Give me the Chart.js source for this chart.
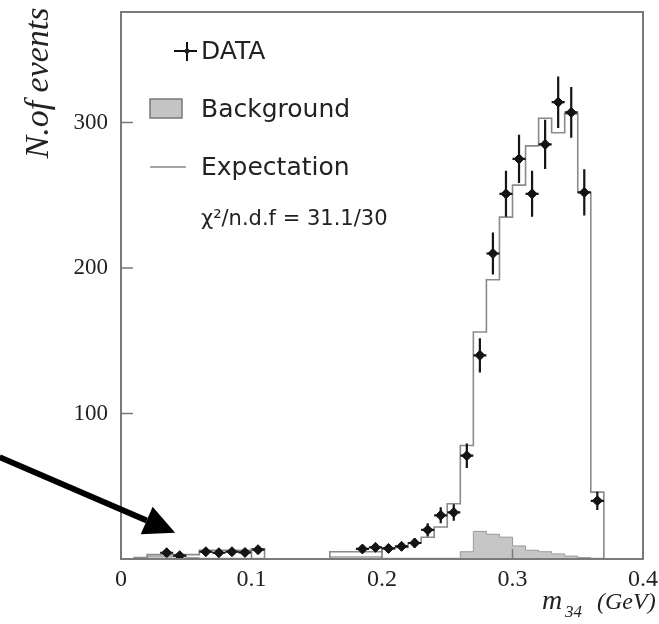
<!DOCTYPE html>
<html>
<head>
<meta charset="utf-8">
<title>m34 distribution</title>
<script src="https://cdn.jsdelivr.net/npm/chart.js@4.4.1/dist/chart.umd.min.js"></script>
<style>
  html, body { margin: 0; padding: 0; background: #fff; }
  #wrap { width: 659px; height: 624px; position: relative; }
</style>
</head>
<body>
<div id="wrap"><canvas id="myChart"></canvas></div>
<script>
// Chart data start

    // histogram bin edges (GeV)
    const binEdges = [0.00, 0.01, 0.02, 0.03, 0.04, 0.05, 0.06, 0.07, 0.08, 0.09,
                      0.10, 0.11, 0.12, 0.13, 0.14, 0.15, 0.16, 0.17, 0.18, 0.19,
                      0.20, 0.21, 0.22, 0.23, 0.24, 0.25, 0.26, 0.27, 0.28, 0.29,
                      0.30, 0.31, 0.32, 0.33, 0.34, 0.35, 0.36, 0.37, 0.38, 0.39, 0.40];

    // expected events per bin (open histogram)
    const expectation = [0, 1, 3, 3, 3, 3, 6, 6, 6, 6,
                         7, 0, 0, 0, 0, 0, 5, 5, 5, 5,
                         7, 8, 11, 15, 22, 38, 78, 156, 192, 235,
                         257, 284, 303, 293, 306, 252, 46, 0, 0, 0];

    // background per bin (grey filled histogram)
    const background = [0, 0.5, 2, 2, 2, 1, 0.5, 0.5, 0.5, 0.5,
                        0.5, 0, 0, 0, 0, 0, 1.5, 1.5, 1.5, 1.5,
                        0.5, 0.5, 0.5, 0.5, 0.5, 0.5, 5, 19, 17, 15,
                        9, 6, 5, 3.5, 2, 1, 0.5, 0, 0, 0];

    // measured points
    const dataX = [0.035, 0.045, 0.065, 0.075, 0.085, 0.095, 0.105,
                   0.185, 0.195, 0.205, 0.215, 0.225, 0.235, 0.245, 0.255, 0.265,
                   0.275, 0.285, 0.295, 0.305, 0.315, 0.325, 0.335, 0.345, 0.355, 0.365];
    const dataY = [4.3, 2.3, 5, 4.3, 5, 4.5, 6.4,
                   6.9, 8, 7.3, 8.7, 11, 20, 30, 32, 71,
                   140, 210, 251, 275, 251, 285, 314, 307, 252, 40];
    const dataErr = [2, 1.5, 2.2, 2, 2.2, 2.1, 2.5,
                     2.6, 2.8, 2.7, 3, 3.3, 4.5, 5.5, 5.7, 8.4,
                     11.8, 14.5, 15.8, 16.6, 15.8, 16.9, 17.7, 17.5, 15.9, 6.3];

    const xTicks = [0, 0.1, 0.2, 0.3, 0.4];
    const xTickLabels = ['0', '0.1', '0.2', '0.3', '0.4'];
    const yTicks = [100, 200, 300];

    const legendLabels = ['DATA', 'Background', 'Expectation'];
    const fitText = '\u03c7\u00b2/n.d.f = 31.1/30';

// End chart data

// Helpers start

    // turn per-bin values into points for a stepped outline
    function stepPoints(values){
        const pts = [];
        for(let i = 0; i < values.length; i++){
            pts.push({x: binEdges[i], y: values[i]});
        }
        pts.push({x: binEdges[values.length], y: values[values.length - 1]});
        return pts;
    }

    const points = [];
    for(let i = 0; i < dataX.length; i++){
        points.push({x: dataX[i], y: dataY[i]});
    }

// End helpers

// Plugins start

    // frame round the plot and small inward tick marks
    const framePlugin = {
        id: 'framePlugin',
        afterDraw(chart){
            const ctx = chart.ctx;
            const a = chart.chartArea;
            const sx = chart.scales.x;
            const sy = chart.scales.y;
            ctx.save();
            ctx.strokeStyle = '#7a7a7a';
            ctx.lineWidth = 2;
            ctx.strokeRect(a.left, a.top, a.right - a.left, a.bottom - a.top);
            ctx.lineWidth = 1.5;
            ctx.beginPath();
            yTicks.forEach(v => {
                const py = sy.getPixelForValue(v);
                ctx.moveTo(a.left, py);
                ctx.lineTo(a.left + 12, py);
            });
            xTicks.forEach(v => {
                const px = sx.getPixelForValue(v);
                ctx.moveTo(px, a.bottom);
                ctx.lineTo(px, a.bottom - 10);
            });
            ctx.stroke();
            ctx.restore();
        }
    };

    // error bars on the data points
    const errorBars = {
        id: 'errorBars',
        afterDatasetsDraw(chart){
            const ctx = chart.ctx;
            const sx = chart.scales.x;
            const sy = chart.scales.y;
            ctx.save();
            ctx.strokeStyle = '#151515';
            ctx.lineWidth = 2.2;
            ctx.beginPath();
            for(let i = 0; i < dataX.length; i++){
                const px = sx.getPixelForValue(dataX[i]);
                const py = sy.getPixelForValue(dataY[i]);
                ctx.moveTo(px, sy.getPixelForValue(dataY[i] - dataErr[i]));
                ctx.lineTo(px, sy.getPixelForValue(dataY[i] + dataErr[i]));
                ctx.moveTo(sx.getPixelForValue(dataX[i] - 0.005), py);
                ctx.lineTo(sx.getPixelForValue(dataX[i] + 0.005), py);
            }
            ctx.stroke();
            ctx.restore();
        }
    };

    // legend drawn inside the frame
    const boxLegend = {
        id: 'boxLegend',
        afterDraw(chart){
            const ctx = chart.ctx;
            const a = chart.chartArea;
            const x0 = a.left + 29;
            const tx = a.left + 80;
            ctx.save();
            ctx.fillStyle = '#222';
            ctx.font = '25px "DejaVu Sans"';
            ctx.textBaseline = 'middle';
            ctx.textAlign = 'left';

            // DATA marker
            ctx.strokeStyle = '#111';
            ctx.lineWidth = 2;
            ctx.beginPath();
            ctx.moveTo(a.left + 53, a.top + 39);
            ctx.lineTo(a.left + 76, a.top + 39);
            ctx.moveTo(a.left + 66, a.top + 30);
            ctx.lineTo(a.left + 66, a.top + 49);
            ctx.stroke();
            ctx.beginPath();
            ctx.arc(a.left + 66, a.top + 39, 2.5, 0, Math.PI * 2);
            ctx.fill();
            ctx.fillText(legendLabels[0], tx, a.top + 40);

            // Background box
            ctx.fillStyle = '#c4c4c4';
            ctx.fillRect(x0, a.top + 87, 32, 19);
            ctx.strokeStyle = '#777';
            ctx.lineWidth = 1.5;
            ctx.strokeRect(x0, a.top + 87, 32, 19);
            ctx.fillStyle = '#222';
            ctx.fillText(legendLabels[1], tx, a.top + 98);

            // Expectation line
            ctx.strokeStyle = '#888';
            ctx.beginPath();
            ctx.moveTo(x0, a.top + 155);
            ctx.lineTo(x0 + 36, a.top + 155);
            ctx.stroke();
            ctx.fillText(legendLabels[2], tx, a.top + 156);

            ctx.font = '21px "DejaVu Sans"';
            ctx.fillText(fitText, tx, a.top + 208);
            ctx.restore();
        }
    };

    // axis titles and the pointing arrow
    const decorations = {
        id: 'decorations',
        afterDraw(chart){
            const ctx = chart.ctx;
            const sx = chart.scales.x;
            const sy = chart.scales.y;
            ctx.save();
            ctx.fillStyle = '#222';

            // y title
            ctx.save();
            ctx.translate(39, 83);
            ctx.rotate(-Math.PI / 2);
            ctx.font = 'italic 34px "Liberation Serif"';
            ctx.textAlign = 'center';
            ctx.textBaseline = 'middle';
            ctx.fillText('N.of events', 0, 0);
            ctx.restore();

            // x title with subscript
            ctx.textBaseline = 'alphabetic';
            ctx.textAlign = 'left';
            ctx.font = 'italic 28px "Liberation Serif"';
            ctx.fillText('m', 542, 609);
            ctx.font = 'italic 17px "Liberation Serif"';
            ctx.fillText('34', 565, 617);
            ctx.font = 'italic 24px "Liberation Serif"';
            ctx.fillText('(GeV)', 597, 609);

            // arrow
            const x1 = sx.getPixelForValue(-0.093), y1 = sy.getPixelForValue(70);
            const x2 = sx.getPixelForValue(0.0415), y2 = sy.getPixelForValue(18);
            const ang = Math.atan2(y2 - y1, x2 - x1);
            const head = 31, half = 15;
            const bx = x2 - head * Math.cos(ang), by = y2 - head * Math.sin(ang);
            ctx.strokeStyle = '#000';
            ctx.lineWidth = 6;
            ctx.beginPath();
            ctx.moveTo(x1, y1);
            ctx.lineTo(bx, by);
            ctx.stroke();
            ctx.fillStyle = '#000';
            ctx.beginPath();
            ctx.moveTo(x2, y2);
            ctx.lineTo(bx + half * Math.sin(ang), by - half * Math.cos(ang));
            ctx.lineTo(bx - half * Math.sin(ang), by + half * Math.cos(ang));
            ctx.closePath();
            ctx.fill();
            ctx.restore();
        }
    };

// End plugins

// Build the chart start

    const ctx = document.getElementById('myChart').getContext('2d');
    const myChart = new Chart(ctx, {
        type: 'line',
        data: {
            datasets: [{
                label: 'DATA',
                type: 'scatter',
                data: points,
                pointStyle: 'rectRot',
                pointRadius: 5,
                backgroundColor: '#111',
                borderColor: '#111',
                borderWidth: 1,
                order: 0
            }, {
                label: 'Expectation',
                data: stepPoints(expectation),
                stepped: true,
                borderColor: '#8a8a8a',
                borderWidth: 1.6,
                pointRadius: 0,
                fill: false,
                order: 1
            }, {
                label: 'Background',
                data: stepPoints(background),
                stepped: true,
                borderColor: '#9a9a9a',
                borderWidth: 1,
                backgroundColor: '#c6c6c6',
                pointRadius: 0,
                fill: 'origin',
                order: 2
            }]
        },
        options: {
            responsive: true,
            maintainAspectRatio: false,
            animation: false,
            events: [],
            layout: {
                padding: {left: 0, right: 16, top: 12, bottom: 0}
            },
            plugins: {
                legend: {display: false},
                tooltip: {enabled: false}
            },
            scales: {
                x: {
                    type: 'linear',
                    min: 0,
                    max: 0.4,
                    grid: {display: false, drawTicks: false},
                    border: {display: false},
                    afterBuildTicks: s => { s.ticks = xTicks.map(v => ({value: v})); },
                    afterFit: s => { s.height = 65; s.paddingLeft = 0; s.paddingRight = 0; },
                    ticks: {
                        padding: 6,
                        color: '#222',
                        maxRotation: 0,
                        font: {family: '"Liberation Serif"', size: 24},
                        callback: (v, i) => xTickLabels[i]
                    }
                },
                y: {
                    type: 'linear',
                    min: 0,
                    max: 376,
                    grid: {display: false, drawTicks: false},
                    border: {display: false},
                    afterBuildTicks: s => { s.ticks = yTicks.map(v => ({value: v})); },
                    afterFit: s => { s.width = 121; s.paddingTop = 0; s.paddingBottom = 0; },
                    ticks: {
                        padding: 13,
                        color: '#222',
                        font: {family: '"Liberation Serif"', size: 23}
                    }
                }
            }
        },
        plugins: [framePlugin, errorBars, boxLegend, decorations]
    });

// End build the chart
</script>
</body>
</html>
